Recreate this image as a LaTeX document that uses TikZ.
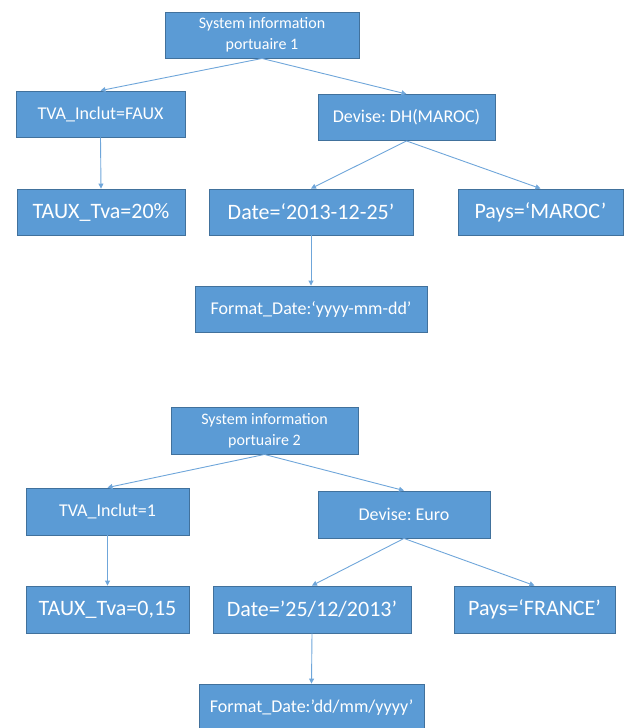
\documentclass[tikz,border=0pt]{standalone}
\usepackage{fontspec}
\setmainfont{Carlito}
\frenchspacing
\usetikzlibrary{arrows.meta,positioning}
\definecolor{boxblue}{HTML}{5B9BD5}
\definecolor{boxedge}{HTML}{41719C}
\definecolor{arrowblue}{HTML}{6FA6DA}
\begin{document}
\begin{tikzpicture}[x=1pt,y=-1pt,
    box/.style={draw=boxedge,fill=boxblue,line width=0.9pt,text=white,align=center,
      minimum height=46pt,inner sep=0pt},
    small/.style={font=\fontsize{16}{21}\selectfont},
    mid/.style={font=\fontsize{18}{22}\selectfont},
    big/.style={font=\fontsize{22}{26}\selectfont},
    link/.style={arrowblue,line width=0.9pt,-{Triangle[length=5pt,width=5pt]}}]
    \useasboundingbox (0,0) rectangle (625,728);

    % first system
    \node[box,small,minimum width=194pt] (root1) at (262,35) {System information\\portuaire 1};
    \node[box,mid,minimum width=169pt] (tva1) at (100.5,114) {TVA\_Inclut=FAUX};
    \node[box,mid,minimum width=177pt] (dev1) at (406.5,117.5) {Devise: DH(MAROC)};
    \node[box,big,minimum width=168pt] (taux1) at (101,212) {TAUX\_Tva=20\%};
    \node[box,big,minimum width=204pt] (date1) at (311,212) {Date=‘2013-12-25’};
    \node[box,big,minimum width=165pt] (pays1) at (540.5,212) {Pays=‘MAROC’};
    \node[box,mid,minimum width=232pt] (fmt1) at (311,309) {Format\_Date:‘yyyy-mm-dd’};

    \draw[link] (root1.south)--(tva1.north);
    \draw[link] (root1.south)--(dev1.north);
    \draw[link] (tva1.south)--(taux1.north);
    \draw[link] (dev1.south)--(date1.north);
    \draw[link] (dev1.south)--(pays1.north);
    \draw[link] (date1.south)--(fmt1.north);

    % second system
    \node[box,small,minimum width=187pt,minimum height=47pt] (root2) at (264.5,430.5) {System information\\portuaire 2};
    \node[box,mid,minimum width=163pt,minimum height=47pt] (tva2) at (107.5,511.5) {TVA\_Inclut=1};
    \node[box,mid,minimum width=172pt,minimum height=47pt] (dev2) at (404,514.5) {Devise: Euro};
    \node[box,big,minimum width=163pt,minimum height=47pt] (taux2) at (107.5,609.5) {TAUX\_Tva=0,15};
    \node[box,big,minimum width=198pt,minimum height=47pt] (date2) at (312,609.5) {Date=’25/12/2013’};
    \node[box,big,minimum width=161pt,minimum height=47pt] (pays2) at (534.5,609.5) {Pays=‘FRANCE’};
    \node[box,mid,minimum width=225pt,minimum height=47pt] (fmt2) at (311.5,707.5) {Format\_Date:’dd/mm/yyyy’};

    \draw[link] (root2.south)--(tva2.north);
    \draw[link] (root2.south)--(dev2.north);
    \draw[link] (tva2.south)--(taux2.north);
    \draw[link] (dev2.south)--(date2.north);
    \draw[link] (dev2.south)--(pays2.north);
    \draw[link] (date2.south)--(fmt2.north);
\end{tikzpicture}
\end{document}
